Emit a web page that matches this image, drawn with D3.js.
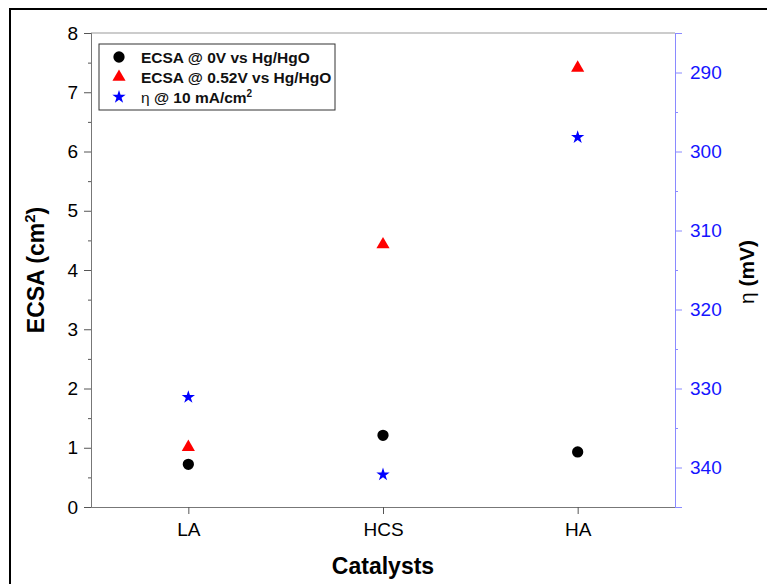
<!DOCTYPE html>
<html>
<head>
<meta charset="utf-8">
<script src="https://cdn.jsdelivr.net/npm/d3@7"></script>
<style>
  body { margin: 0; background: #fff; }
  text { font-family: "Liberation Sans", Arial, sans-serif; }
</style>
</head>
<body>
<div id="chart"></div>
<script>
// data
var catalysts = ["LA", "HCS", "HA"];
var ecsa0V = [0.72, 1.21, 0.93];
var ecsa052V = [1.01, 4.43, 7.41];
var eta10 = [331.1, 340.9, 298.2];

var ecsaTicks = [0, 1, 2, 3, 4, 5, 6, 7, 8];
var etaTicks = [290, 300, 310, 320, 330, 340];
var legendLabels = ["ECSA @ 0V vs Hg/HgO", "ECSA @ 0.52V vs Hg/HgO", "η @ 10 mA/cm"];

var W = 767, H = 584;
var margin = { top: 33, right: 92, bottom: 77, left: 91 };
var width = W - margin.left - margin.right;
var height = H - margin.top - margin.bottom;

var svg = d3.select("#chart")
  .append("svg")
  .attr("width", W)
  .attr("height", H);

// outer frame
svg.append("rect")
  .attr("x", 10).attr("y", 9)
  .attr("width", W).attr("height", H)
  .attr("fill", "none")
  .attr("stroke", "#000")
  .attr("stroke-width", 2);

var g = svg.append("g")
  .attr("transform", "translate(" + margin.left + "," + margin.top + ")");

// scales
var xScale = d3.scalePoint().domain(catalysts).range([0, width]).padding(0.5);
var yScale = d3.scaleLinear().domain([0, 8]).range([height, 0]);
var y2Scale = d3.scaleLinear().domain([285, 345]).range([0, height]);

// top border
g.append("line")
  .attr("x1", 0).attr("x2", width)
  .attr("y1", 0).attr("y2", 0)
  .attr("stroke", "#999").attr("stroke-width", 1);

// left minor ticks
var leftMinor = g.append("g")
  .call(d3.axisLeft(yScale).tickValues(d3.range(0.5, 8, 1)).tickSize(3).tickFormat(""));
// left axis
var leftAxis = g.append("g")
  .call(d3.axisLeft(yScale).tickValues(ecsaTicks).tickSize(7).tickPadding(6));
[leftMinor, leftAxis].forEach(function (a) {
  a.select(".domain").attr("stroke", "#777");
  a.selectAll(".tick line").attr("stroke", "#555");
});
leftAxis.selectAll("text").attr("font-size", 19).attr("fill", "#000").style("font-family", "Liberation Sans, Arial, sans-serif");

// bottom axis
var bottomAxis = g.append("g")
  .attr("transform", "translate(0," + height + ")")
  .call(d3.axisBottom(xScale).tickSize(7).tickPadding(9).tickSizeOuter(0));
bottomAxis.select(".domain").attr("stroke", "#777");
bottomAxis.selectAll(".tick line").attr("stroke", "#555");
bottomAxis.selectAll("text").attr("font-size", 19).attr("fill", "#000").style("font-family", "Liberation Sans, Arial, sans-serif");

// right minor ticks
var rightMinor = g.append("g")
  .attr("transform", "translate(" + width + ",0)")
  .call(d3.axisRight(y2Scale).tickValues(d3.range(285, 346, 10)).tickSize(3).tickFormat(""));
// right axis
var rightAxis = g.append("g")
  .attr("transform", "translate(" + width + ",0)")
  .call(d3.axisRight(y2Scale).tickValues(etaTicks).tickSize(7).tickPadding(8));
[rightMinor, rightAxis].forEach(function (a) {
  a.select(".domain").attr("stroke", "#8a8aff");
  a.selectAll(".tick line").attr("stroke", "#8a8aff");
});
rightAxis.selectAll("text").attr("font-size", 19).attr("fill", "#1515ff").style("font-family", "Liberation Sans, Arial, sans-serif");

// axis labels
g.append("text")
  .attr("transform", "translate(" + (-47) + "," + (height / 2) + ") rotate(-90)")
  .attr("text-anchor", "middle")
  .attr("font-size", 23)
  .attr("font-weight", "bold")
  .text("ECSA (cm")
  .append("tspan").attr("dy", -9).attr("font-size", 15).text("2")
  .select(function () { return this.parentNode; })
  .append("tspan").attr("dy", 9).text(")");

var etaLabel = g.append("text")
  .attr("transform", "translate(" + (width + 79) + "," + (height / 2 + 2) + ") rotate(-90)")
  .attr("text-anchor", "middle")
  .attr("font-size", 21);
etaLabel.append("tspan").text("η ");
etaLabel.append("tspan").attr("font-weight", "bold").text("(mV)");

g.append("text")
  .attr("x", width / 2)
  .attr("y", height + 67)
  .attr("text-anchor", "middle")
  .attr("font-size", 23)
  .attr("font-weight", "bold")
  .text("Catalysts");

// markers
var circleSym = d3.symbol().type(d3.symbolCircle).size(100);
var triSym = d3.symbol().type(d3.symbolTriangle).size(75);
var starSym = d3.symbol().type(d3.symbolStar).size(55);

g.selectAll(".p0")
  .data(ecsa0V)
  .join("path")
  .attr("class", "p0")
  .attr("d", circleSym)
  .attr("transform", function (d, i) { return "translate(" + xScale(catalysts[i]) + "," + yScale(d) + ")"; })
  .attr("fill", "#000");

g.selectAll(".p1")
  .data(ecsa052V)
  .join("path")
  .attr("class", "p1")
  .attr("d", triSym)
  .attr("transform", function (d, i) { return "translate(" + xScale(catalysts[i]) + "," + yScale(d) + ")"; })
  .attr("fill", "#ff0000");

g.selectAll(".p2")
  .data(eta10)
  .join("path")
  .attr("class", "p2")
  .attr("d", starSym)
  .attr("transform", function (d, i) { return "translate(" + xScale(catalysts[i]) + "," + y2Scale(d) + ")"; })
  .attr("fill", "#0000ff");

// legend
var legend = g.append("g").attr("transform", "translate(8,11)");
legend.append("rect")
  .attr("width", 236).attr("height", 66)
  .attr("fill", "#fff")
  .attr("stroke", "#333")
  .attr("stroke-width", 1);

var legendSyms = [circleSym, triSym, starSym];
var legendColors = ["#000", "#ff0000", "#0000ff"];
var legendRows = legend.selectAll(".lg")
  .data(legendLabels)
  .join("g")
  .attr("class", "lg")
  .attr("transform", function (d, i) { return "translate(0," + (13 + i * 20) + ")"; });

legendRows.append("path")
  .attr("d", function (d, i) { return legendSyms[i](); })
  .attr("transform", "translate(20,0)")
  .attr("fill", function (d, i) { return legendColors[i]; });

legendRows.append("text")
  .attr("x", 42)
  .attr("y", 5.5)
  .attr("font-size", 15.5)
  .attr("font-weight", "bold")
  .attr("fill", "#111")
  .each(function (d, i) {
    var t = d3.select(this);
    if (i === 2) {
      t.append("tspan").attr("font-weight", "normal").text("η ");
      t.append("tspan").text("@ 10 mA/cm");
      t.append("tspan").attr("dy", -6).attr("font-size", 10).text("2");
    } else {
      t.text(d);
    }
  });
</script>
</body>
</html>
